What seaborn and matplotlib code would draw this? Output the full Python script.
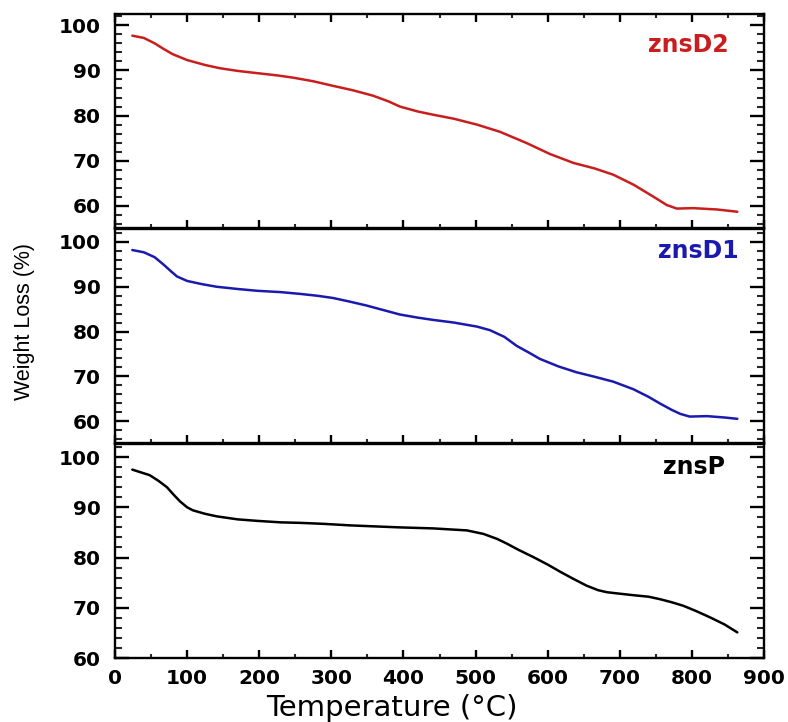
import matplotlib
matplotlib.use("Agg")
import matplotlib.pyplot as plt
from matplotlib import font_manager
from matplotlib.ticker import MultipleLocator
import seaborn as sns
import pandas as pd

# TGA curves: temperature (°C) and remaining weight (%)
temp_d2 = [24, 40, 55, 67, 80, 100, 125, 145, 170, 197, 225, 247, 275, 302, 330,
           358, 380, 395, 420, 441, 470, 502, 534, 571, 603, 636, 665, 691, 719,
           747, 765, 779, 802, 835, 863]
weight_d2 = [97.7, 97.2, 96.0, 94.8, 93.6, 92.3, 91.2, 90.5, 89.9, 89.4, 88.9, 88.4,
             87.6, 86.6, 85.6, 84.4, 83.1, 82.0, 80.9, 80.2, 79.3, 78.0, 76.4, 73.9,
             71.5, 69.5, 68.3, 66.9, 64.7, 62.0, 60.2, 59.4, 59.5, 59.2, 58.7]

temp_d1 = [24, 40, 55, 67, 78, 86, 100, 120, 141, 170, 197, 230, 257, 280, 302, 325,
           349, 372, 395, 420, 441, 470, 502, 520, 540, 557, 575, 589, 615, 640, 665,
           691, 719, 740, 756, 772, 784, 797, 821, 845, 863]
weight_d1 = [98.2, 97.7, 96.6, 95.0, 93.4, 92.3, 91.3, 90.6, 90.0, 89.5, 89.1, 88.8,
             88.4, 88.0, 87.5, 86.7, 85.8, 84.8, 83.8, 83.1, 82.6, 82.0, 81.1, 80.3,
             78.8, 76.8, 75.2, 73.9, 72.2, 70.9, 69.9, 68.8, 67.1, 65.4, 63.9, 62.5,
             61.6, 61.0, 61.1, 60.8, 60.5]

temp_p = [24, 48, 60, 72, 82, 90, 100, 108, 125, 141, 170, 197, 230, 257, 290, 326,
          360, 395, 441, 488, 511, 530, 543, 560, 580, 600, 617, 635, 654, 670, 682,
          700, 719, 740, 756, 772, 788, 805, 825, 845, 863]
weight_p = [97.5, 96.4, 95.3, 94.0, 92.4, 91.2, 90.0, 89.4, 88.7, 88.2, 87.6, 87.3,
            87.0, 86.9, 86.7, 86.4, 86.2, 86.0, 85.8, 85.4, 84.7, 83.7, 82.8, 81.5,
            80.1, 78.6, 77.2, 75.8, 74.4, 73.5, 73.1, 72.8, 72.5, 72.2, 71.7, 71.1,
            70.4, 69.4, 68.1, 66.7, 65.1]

sample_names = ["znsD2", "znsD1", "znsP"]
sample_colors = ["#C81E1E", "#1A1AAE", "#000000"]
x_ticks = [0, 100, 200, 300, 400, 500, 600, 700, 800, 900]
y_ticks = [60, 70, 80, 90, 100]

sns.set_theme(style="ticks")
plt.rcParams["font.family"] = ["DejaVu Sans"]

installed = {f.name for f in font_manager.fontManager.ttflist}
if "Liberation Sans Narrow" in installed:
    ylab_family, ylab_size = "Liberation Sans Narrow", 18.5
else:
    ylab_family, ylab_size = "Liberation Sans", 15.5

fig = plt.figure(figsize=(7.88, 7.22), dpi=100)
left, width = 115 / 788, (764 - 115) / 788
H = 722
panel_px = [(14, 228), (229, 443), (444, 658)]
axes = [fig.add_axes([left, 1 - b / H, width, (b - t) / H]) for t, b in panel_px]

series = [(temp_d2, weight_d2), (temp_d1, weight_d1), (temp_p, weight_p)]
ylims = [(55.1, 102.5), (55.1, 102.9), (60, 102.6)]
label_pos = [(0.945, 0.855), (0.961, 0.897), (0.94, 0.893)]

for i, ax in enumerate(axes):
    t, w = series[i]
    df = pd.DataFrame({"Temperature": t, "Weight": w})
    sns.lineplot(data=df, x="Temperature", y="Weight", ax=ax,
                 color=sample_colors[i], linewidth=1.8)
    ax.set_xlim(0, 900)
    ax.set_ylim(*ylims[i])
    ax.set_xticks(x_ticks)
    ax.set_yticks(y_ticks)
    ax.xaxis.set_minor_locator(MultipleLocator(50))
    ax.yaxis.set_minor_locator(MultipleLocator(2))
    for s in ax.spines.values():
        s.set_linewidth(1.7)
        s.set_color("black")
        s.set_visible(True)
    ax.tick_params(axis="y", which="major", direction="in", length=10, width=1.7,
                   left=True, right=True, labelsize=14.5, pad=10, colors="black")
    ax.tick_params(axis="y", which="minor", direction="in", length=5, width=1.5,
                   left=True, right=True)
    ax.tick_params(axis="x", which="major", direction="in", length=6, width=1.7,
                   bottom=True, top=(i == 0), labelsize=14.5, pad=8, colors="black")
    ax.tick_params(axis="x", which="minor", direction="in", length=3, width=1.5,
                   bottom=True, top=(i == 0))
    for lab in ax.get_yticklabels() + ax.get_xticklabels():
        lab.set_fontweight("bold")
    ax.set_ylabel("")
    ax.set_xlabel("")
    if i < 2:
        ax.tick_params(axis="x", labelbottom=False)
    ax.text(label_pos[i][0], label_pos[i][1], sample_names[i], transform=ax.transAxes,
            ha="right", va="center", fontsize=17, fontweight="bold",
            color=sample_colors[i])

fig.text(392 / 788, 1 - 716 / H, "Temperature (°C)", ha="center", va="baseline",
         fontsize=21, color="black")
fig.text(25 / 788, 1 - 322 / H, "Weight Loss (%)", rotation=90, ha="center",
         va="center", fontsize=ylab_size, family=[ylab_family, "DejaVu Sans"],
         color="black")

fig.savefig("out.png", dpi=100, facecolor="white")
